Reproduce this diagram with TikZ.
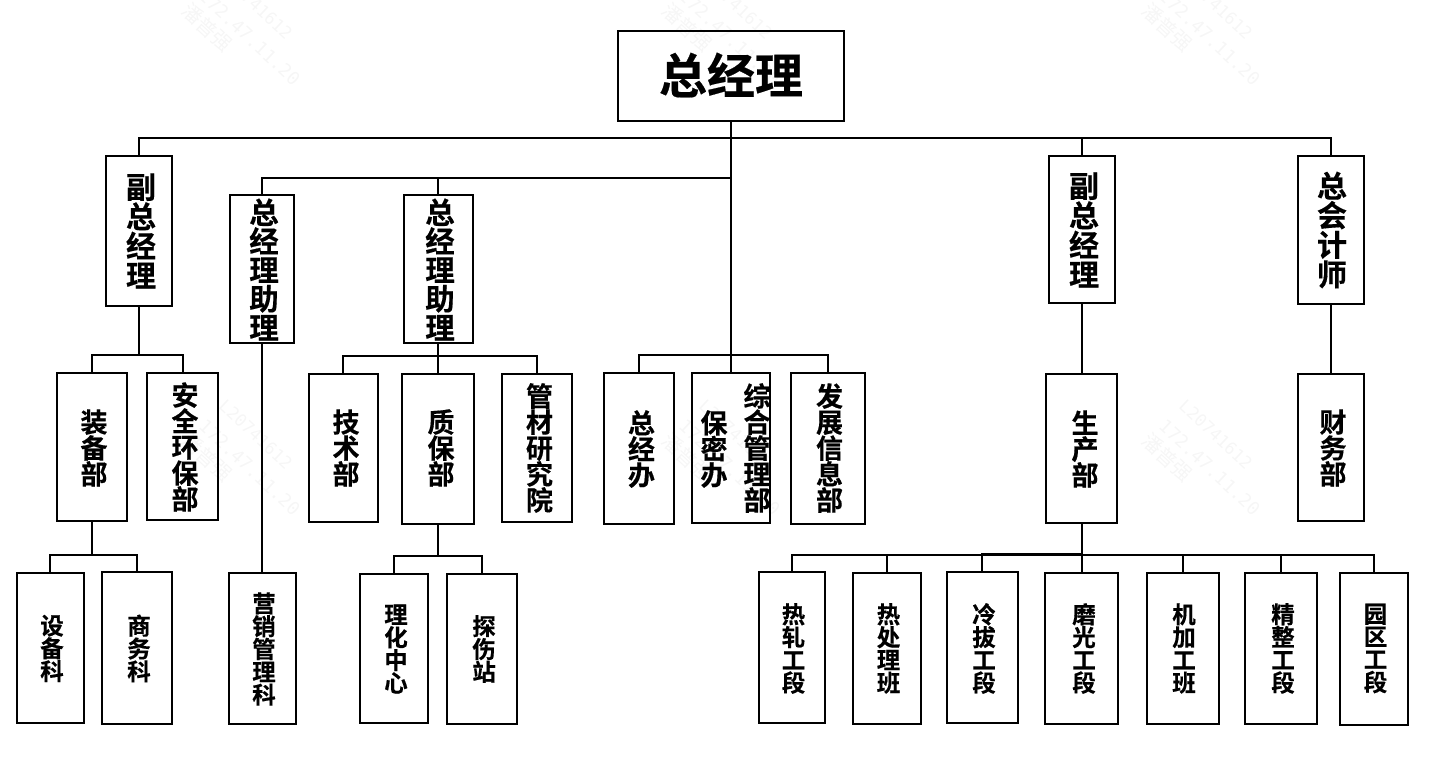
\documentclass[tikz,border=0pt]{standalone}
\usepackage{fontspec}
\newfontfamily\cjkbold[FakeBold=0.4]{Noto Sans CJK SC Bold}
\newfontfamily\cjkplain{Noto Sans CJK SC}
\newfontfamily\wmmono{DejaVu Sans Mono}
\definecolor{wmCol}{gray}{0.965}
\tikzset{
  orgbox/.style={draw,line width=2pt,inner sep=0pt},
  conn/.style={-,line width=2pt},
  titletxt/.style={inner sep=0pt,font=\fontsize{48}{48}\cjkbold},
  hightxt/.style={inner sep=0pt,align=center,font=\fontsize{30}{29.5}\cjkbold},
  asstxt/.style={inner sep=0pt,align=center,font=\fontsize{29.5}{28.8}\cjkbold},
  midtxt/.style={inner sep=0pt,align=center,font=\fontsize{27}{26}\cjkbold},
  lowtxt/.style={inner sep=0pt,align=center,font=\fontsize{23.5}{22.8}\cjkbold},
  wmtxt/.style={inner sep=0pt,anchor=west,rotate=-43,text=wmCol}
}

\begin{document}
\begin{tikzpicture}[x=1pt,y=-1pt]
      \useasboundingbox (0,0) rectangle (1430,759);
      % faint marks behind the chart
      \foreach \wx in {0,480,960} {
        \foreach \wy in {0,-430} {
          \node [wmtxt,font=\fontsize{17}{17}\wmmono] (wma\wx\wy) at (\wx+222,\wy+403) {L20741612};
          \node [wmtxt,font=\fontsize{18}{18}\wmmono] (wmb\wx\wy) at (\wx+202,\wy+423) {172.47.11.20};
          \node [wmtxt,font=\fontsize{20}{20}\cjkplain] (wmc\wx\wy) at (\wx+185,\wy+437) {潘普强};
        }
      }
      % top
      \node [orgbox,minimum width=226pt,minimum height=90pt] (zjl) at (731,76) {};
      \node [titletxt] (zjlt) at (731,75) {总经理};
      % second row
      \foreach \n/\x/\y/\w/\h/\tx/\ty/\lbl in {
        fzl/139/231/66/150/141/231/{副\\总\\经\\理},
        fzr/1081.5/229.5/66/147/1084/230/{副\\总\\经\\理},
        zkj/1331/230/66/148/1332/230/{总\\会\\计\\师}} {
        \node [orgbox,minimum width=\w pt,minimum height=\h pt] (\n) at (\x,\y) {};
        \node [hightxt] (\n t) at (\tx,\ty) {\lbl};
      }
      \foreach \n/\x/\w/\tx in {zla/262/64/264,zlb/438/69/440} {
        \node [orgbox,minimum width=\w pt,minimum height=148pt] (\n) at (\x,269) {};
        \node [asstxt] (\n t) at (\tx,269.5) {总\\经\\理\\助\\理};
      }
      % third row
      \foreach \n/\x/\y/\w/\h/\tx/\ty/\lbl in {
        zbb/92/447/70/148/94/448/{装\\备\\部},
        aqb/182.5/446.5/71/147/185/447/{安\\全\\环\\保\\部},
        jsb/343/448/69/148/346/448/{技\\术\\部},
        zbz/438/449/72/150/441/448/{质\\保\\部},
        gcy/537/448/70/148/539.5/448/{管\\材\\研\\究\\院},
        zjb/639/448.5/70/151/641.5/449/{总\\经\\办},
        bmb/731/448/78/150/714/449/{保\\密\\办},
        fzb/828/448.5/74/151/829.5/448/{发\\展\\信\\息\\部},
        scb/1081.5/448.5/71/149/1085/449/{生\\产\\部},
        cwb/1331/447.5/66/147/1333/448/{财\\务\\部}} {
        \node [orgbox,minimum width=\w pt,minimum height=\h pt] (\n) at (\x,\y) {};
        \node [midtxt] (\n t) at (\tx,\ty) {\lbl};
      }
      \node [midtxt] (zhgl) at (757,448) {综\\合\\管\\理\\部};
      % bottom row
      \foreach \n/\x/\y/\w/\h/\tx/\ty/\lbl in {
        sbk/50/648/67/150/52/648.5/{设\\备\\科},
        swk/137/648/70/152/139/648.5/{商\\务\\科},
        yxk/262/648.5/67/151/264/649/{营\\销\\管\\理\\科},
        lhz/394/648.5/68/149/396/649/{理\\化\\中\\心},
        tsz/482/649/70/150/484/649/{探\\伤\\站},
        rzg/792/647.5/66/151/793.5/648.5/{热\\轧\\工\\段},
        rcl/887/648.5/68/151/888.5/648.5/{热\\处\\理\\班},
        lbg/982/647.5/71/151/984/648.5/{冷\\拔\\工\\段},
        mgg/1081.5/648.5/73/151/1084/648.5/{磨\\光\\工\\段},
        jjg/1183/648.5/72/151/1184/648.5/{机\\加\\工\\班},
        jzg/1281/648.5/72/151/1283/648.5/{精\\整\\工\\段},
        yqg/1374/649/68/152/1375.5/648.5/{园\\区\\工\\段}} {
        \node [orgbox,minimum width=\w pt,minimum height=\h pt] (\n) at (\x,\y) {};
        \node [lowtxt] (\n t) at (\tx,\ty) {\lbl};
      }
      % bus levels
      \coordinate (busa) at (0,138);
      \coordinate (busb) at (0,178);
      \coordinate (busc) at (0,355);
      \coordinate (busd) at (0,356);
      \coordinate (buse) at (0,555);
      \coordinate (busf) at (0,556);
      \coordinate (busg) at (0,553.5);
      \foreach \p/\b/\c in {
        zjl/busa/fzl,zjl/busa/fzr,zjl/busa/zkj,
        zjl/busb/zla,zjl/busb/zlb,
        zjl/busc/zjb,zjl/busc/bmb,zjl/busc/fzb,
        fzl/busc/zbb,fzl/busc/aqb,
        zlb/busd/jsb,zlb/busd/zbz,zlb/busd/gcy,
        zbb/buse/sbk,zbb/buse/swk,
        zbz/busf/lhz,zbz/busf/tsz,
        scb/buse/rzg,scb/buse/rcl,scb/busg/lbg,scb/buse/mgg,
        scb/buse/jjg,scb/buse/jzg,scb/buse/yqg} {
        \draw [conn] (\p.south) |- (\c.north |- \b) -- (\c.north);
      }
      % straight drops
      \foreach \a/\b in {zla/yxk,fzr/scb,zkj/cwb} {
        \draw [conn] (\a.south) -- (\b.north);
      }
    \end{tikzpicture}
\end{document}
